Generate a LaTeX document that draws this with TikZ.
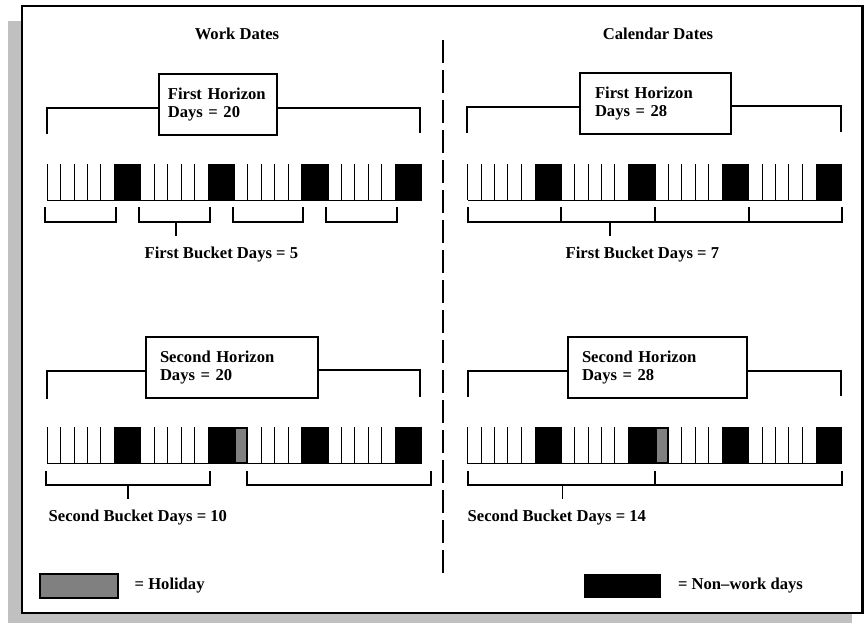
\documentclass[tikz,border=0pt]{standalone}
\usepackage{fontspec}
\setmainfont{Liberation Serif}
\usetikzlibrary{positioning}
\definecolor{calShadow}{HTML}{C0C0C0}
\definecolor{calHoliday}{HTML}{808080}

\begin{document}
\begin{tikzpicture}[
    every node/.style={font=\bfseries\fontsize{9.45}{10.4}\selectfont},
    bracket/.style={line width=1.1pt},
    dayline/.style={line width=0.5pt},
    horizonbox/.style={draw,line width=1.1pt,align=left,minimum height=1.22cm},
    holidaycell/.style={fill=calHoliday,draw=black,line width=1.1pt}
  ]
  \useasboundingbox (0,0) rectangle (17.34,12.46);
  \fill[calShadow] (0.16,0) rectangle (17.04,12.04);
  \draw[fill=white,line width=1.35pt] (0.44,0.2) rectangle (17.25,12.34);
  \draw[line width=0.7pt,dash pattern=on 0.46cm off 0.14cm] (8.86,11.66) -- (8.86,0.92);

  \node (workHead) at (4.74,11.79) {Work Dates};
  \node (calHead) at (13.16,11.79) {Calendar Dates};

  % day strips, four weeks each
  \foreach \sx/\sy in {0.946/8.45,9.356/8.45,0.946/3.19,9.356/3.19} {
    \draw[dayline] (\sx,\sy) -- ++(7.49,0);
    \foreach \k in {0,...,3} {
      \foreach \d in {0,...,4}
        \draw[dayline] ({\sx+(7*\k+\d)*0.2675},\sy) -- ++(0,0.73);
      \fill ({\sx+(7*\k+5)*0.2675},\sy) rectangle ++(0.535,0.73);
    }
  }
  \draw[holidaycell] (4.71,3.21) rectangle (4.94,3.90);
  \draw[holidaycell] (13.12,3.21) rectangle (13.35,3.90);

  % first horizon
  \node[horizonbox,text width=2.01cm,inner xsep=0.17cm] (horizonA) at (4.363,10.37)
    {First Horizon\\Days = 20};
  \node[horizonbox,text width=2.414cm,inner xsep=0.3cm] (horizonB) at (13.107,10.393)
    {First Horizon\\Days = 28};
  \coordinate (horizonAl) at (0.934,9.77);
  \coordinate (horizonAr) at (8.4,9.8);
  \coordinate (horizonBl) at (9.346,9.79);
  \coordinate (horizonBr) at (16.814,9.82);
  \draw[bracket] ([yshift=-0.07cm]horizonA.west) -| (horizonAl);
  \draw[bracket] ([yshift=-0.07cm]horizonA.east) -| (horizonAr);
  \draw[bracket] ([yshift=-0.07cm]horizonB.west) -| (horizonBl);
  \draw[bracket] ([yshift=-0.05cm]horizonB.east) -| (horizonBr);

  % first buckets
  \foreach \k in {0,...,3}
    \draw[bracket] ({0.906+1.8725*\k},8.31) -- ++(0,-0.29) -- ++(1.4175,0) -- ++(0,0.29);
  \draw[bracket] (3.52,8.02) -- (3.52,7.74);
  \node[anchor=west] (firstWork) at (2.77,7.36) {First Bucket Days = 5};

  \draw[bracket] (9.356,8.31) -- (9.356,8.02) -- (16.846,8.02) -- (16.846,8.31);
  \foreach \k in {1,2,3}
    \draw[bracket] ({9.356+1.8725*\k},8.31) -- ++(0,-0.29);
  \draw[bracket] (12.2,8.02) -- (12.2,7.74);
  \node[anchor=west] (firstCal) at (11.19,7.36) {First Bucket Days = 7};

  % second horizon
  \node[horizonbox,text width=2.886cm,inner xsep=0.28cm] (horizonC) at (4.643,5.103)
    {Second Horizon\\Days = 20};
  \node[horizonbox,text width=3.02cm,inner xsep=0.28cm] (horizonD) at (13.15,5.11)
    {Second Horizon\\Days = 28};
  \coordinate (horizonCl) at (0.946,4.48);
  \coordinate (horizonCr) at (8.4,4.53);
  \coordinate (horizonDl) at (9.36,4.52);
  \coordinate (horizonDr) at (16.82,4.54);
  \draw[bracket] ([yshift=-0.07cm]horizonC.west) -| (horizonCl);
  \draw[bracket] ([yshift=-0.05cm]horizonC.east) -| (horizonCr);
  \draw[bracket] ([yshift=-0.07cm]horizonD.west) -| (horizonDl);
  \draw[bracket] ([yshift=-0.07cm]horizonD.east) -| (horizonDr);

  % second buckets
  \draw[bracket] (0.92,3.05) -- (0.92,2.76) -- (4.2,2.76) -- (4.2,3.05);
  \draw[bracket] (4.934,3.05) -- (4.934,2.76) -- (8.614,2.76) -- (8.614,3.05);
  \draw[bracket] (2.56,2.76) -- (2.56,2.48);
  \node[anchor=west] (secondWork) at (0.85,2.1) {Second Bucket Days = 10};

  \draw[bracket] (9.366,3.05) -- (9.366,2.76) -- (16.846,2.76) -- (16.846,3.05);
  \draw[bracket] (13.1,3.05) -- (13.1,2.76);
  \draw[bracket] (11.25,2.76) -- (11.25,2.48);
  \node[anchor=west] (secondCal) at (9.23,2.1) {Second Bucket Days = 14};

  % key
  \node[draw,fill=calHoliday,line width=1.1pt,minimum width=1.56cm,minimum height=0.48cm,
    inner sep=0pt] (holidayKey) at (1.58,0.74) {};
  \node[right=0.19cm of holidayKey] (holidayText) {= Holiday};
  \node[fill=black,minimum width=1.54cm,minimum height=0.48cm,inner sep=0pt]
    (nonworkKey) at (12.45,0.74) {};
  \node[right=0.21cm of nonworkKey] (nonworkText) {= Non--work days};
\end{tikzpicture}
\end{document}
